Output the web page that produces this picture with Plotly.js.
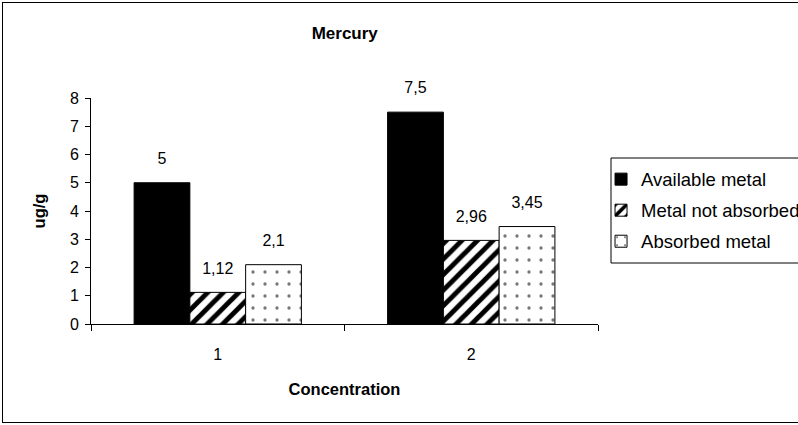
<!DOCTYPE html>
<html><head><meta charset="utf-8">
<script src="https://cdn.plot.ly/plotly-3.0.1.min.js"></script>
<style>
html,body{margin:0;padding:0;background:#fff;}
#frame{position:absolute;left:2px;top:2px;width:796px;height:421px;border:1px solid #000;border-right:none;box-sizing:border-box;pointer-events:none;}
#chart{position:absolute;left:0;top:0;width:798px;height:425px;}
</style></head>
<body>
<div id="chart"></div>
<div id="frame"></div>
<script>
const categories = ['1', '2'];
const seriesNames = ['Available metal', 'Metal not absorbed', 'Absorbed metal'];
const availableMetal = [5, 7.5];
const metalNotAbsorbed = [1.12, 2.96];
const absorbedMetal = [2.1, 3.45];
const yTicks = [0, 1, 2, 3, 4, 5, 6, 7, 8];

const fmt = v => String(v).replace('.', ',');
const font = 'Liberation Sans, Arial, sans-serif';
const values = [availableMetal, metalNotAbsorbed, absorbedMetal];

const markers = [
  {color:'#000', line:{color:'#000', width:1}},
  {color:'#fff', line:{color:'#000', width:1},
   pattern:{shape:'/', fgcolor:'#000', bgcolor:'#fff', size:11, solidity:0.45}},
  {color:'#fff', line:{color:'#000', width:1},
   pattern:{shape:'.', fgcolor:'#777', bgcolor:'#fff', size:12, solidity:0.06}}
];

const traces = [];
values.forEach((v, i) => {
  traces.push({type:'bar', name: seriesNames[i], x: categories, y: v,
    legendgroup: 'g' + i, offsetgroup: 'g' + i, marker: markers[i]});
});
// value labels, grouped like the bars
values.forEach((v, i) => {
  traces.push({type:'scatter', mode:'markers+text', x: categories, y: v, showlegend:false,
    offsetgroup: 'g' + i, alignmentgroup:'lbl',
    text: v.map(fmt), textposition:'top center', cliponaxis:false,
    marker:{size:22, opacity:0},
    textfont:{size:16, color:'#000', family:font}});
});

const layout = {
  width:798, height:425,
  margin:{l:91, r:200, t:98, b:101, autoexpand:false},
  paper_bgcolor:'rgba(0,0,0,0)', plot_bgcolor:'rgba(0,0,0,0)',
  font:{family:font, size:16, color:'#000'},
  title:{text:'<b>Mercury</b>', x:0.432, xanchor:'center', y:0.922, yanchor:'middle', font:{size:17, family:font}},
  barmode:'group', bargap:0.34, bargroupgap:0,
  scattermode:'group', scattergap:0.34,
  showlegend:true,
  legend:{x:1.006, xanchor:'left', y:0.723, yanchor:'top', borderwidth:0,
    bgcolor:'rgba(0,0,0,0)', font:{size:18.5, family:font}, traceorder:'grouped', tracegroupgap:4},
  shapes:[{type:'rect', xref:'paper', yref:'paper', x0:(611-91)/507, x1:(805-91)/507,
    y0:(324-263)/226, y1:(324-158)/226, line:{color:'#000', width:1}, fillcolor:'rgba(0,0,0,0)', layer:'below'}],
  xaxis:{type:'category', showline:true, linecolor:'#000', linewidth:1,
    ticks:'outside', tickson:'boundaries', ticklen:6, tickcolor:'#000',
    showgrid:false, zeroline:false, tickfont:{size:16}, ticklabelstandoff:16,
    title:{text:'<b>Concentration</b>', font:{size:16.5}, standoff:21}},
  yaxis:{range:[0,8], tickvals:yTicks, ticktext:yTicks.map(String), showline:true, linecolor:'#000', linewidth:1,
    ticks:'outside', ticklen:5, tickcolor:'#000', showgrid:false, zeroline:false,
    tickfont:{size:16}, ticklabelstandoff:3,
    title:{text:'<b>ug/g</b>', font:{size:16.5}, standoff:20}}
};

Plotly.newPlot('chart', traces, layout, {displayModeBar:false, staticPlot:true});
</script>
</body></html>
